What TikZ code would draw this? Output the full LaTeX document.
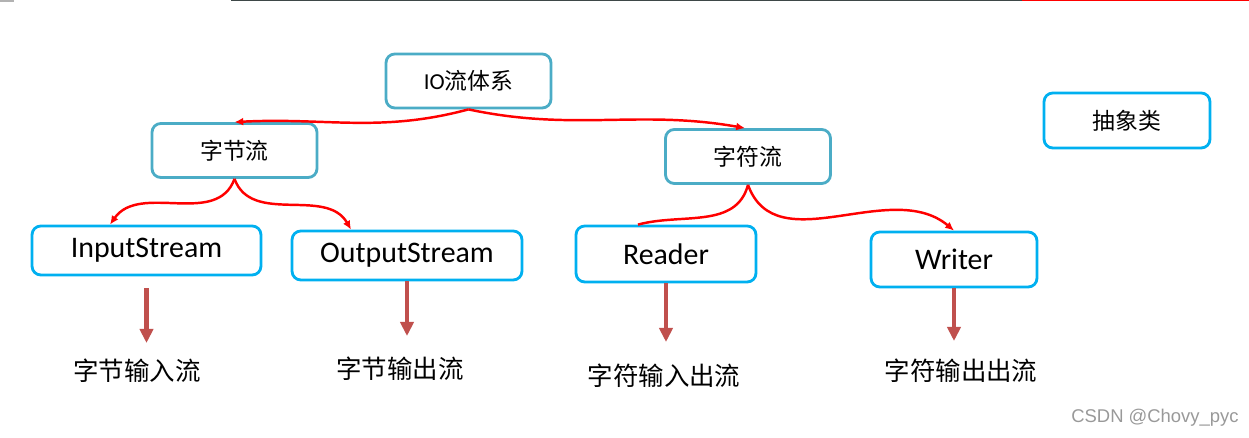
\documentclass[tikz,border=0pt]{standalone}
\usepackage{fontspec}
\setmainfont{Carlito}
\newfontfamily\cjk{Noto Sans CJK SC}
\newfontfamily\wmfont{Liberation Sans}
\usetikzlibrary{arrows.meta}

\definecolor{boxteal}{RGB}{75,172,198}
\definecolor{boxblue}{RGB}{0,176,240}
\definecolor{downred}{RGB}{192,80,77}
\definecolor{topgray}{RGB}{62,72,72}

\tikzset{
  topbox/.style={draw=boxteal, line width=1.6pt, rounded corners=5pt, inner sep=0pt,
    minimum width=3.3cm, minimum height=1.08cm, font=\fontsize{13}{15}\selectfont},
  classbox/.style={draw=boxblue, line width=1.6pt, rounded corners=5pt, inner sep=0pt,
    font=\fontsize{17}{20}\selectfont},
  lbl/.style={font=\cjk\fontsize{14.5}{17}\selectfont},
  split/.style={draw=red, line width=1.4pt, -{Latex[length=5pt,width=4.5pt]}},
  down/.style={draw=downred, line width=2.3pt, -{Triangle[length=8pt,width=7.5pt]}}
}

\begin{document}
\begin{tikzpicture}[x=0.02cm, y=-0.02cm]
    \useasboundingbox (0,0) rectangle (1249,438);

    \draw[line width=0.9pt, topgray] (231,0.6) -- (1022,0.6);
    \draw[line width=0.9pt, red] (1022,0.6) -- (1249,0.6);
    \draw[line width=0.9pt, gray!60] (0,1) -- (14,1);

    \node[topbox] (io) at (468.5,81) {IO{\cjk 流体系}};
    \node[topbox] (zjl) at (234.5,150.5) {\cjk 字节流};
    \node[topbox] (zfl) at (748,156.5) {\cjk 字符流};
    \node[topbox, draw=boxblue, minimum width=3.32cm, minimum height=1.1cm] (abs) at (1127,120.5) {\cjk 抽象类};

    \node[classbox, minimum width=4.58cm, minimum height=0.98cm] (istream) at (146.5,250.5) {InputStream};
    \node[classbox, minimum width=4.6cm, minimum height=0.98cm] (ostream) at (407,255.5) {OutputStream};
    \node[classbox, minimum width=3.6cm, minimum height=1.12cm] (reader) at (666,254) {Reader};
    \node[classbox, minimum width=3.32cm, minimum height=1.1cm] (writer) at (954,259.5) {Writer};

    \node[lbl] (ilbl) at (137,371) {字节输入流};
    \node[lbl] (olbl) at (400,369) {字节输出流};
    \node[lbl] (rlbl) at (664,376) {字符输入出流};
    \node[lbl] (wlbl) at (961,371) {字符输出出流};

    % red branches
    \draw[split] (io.south) to[out=195,in=3] (zjl.north);
    \draw[split] (io.south) to[out=-12,in=170] ([xshift=-0.06cm]zfl.north);
    \draw[split] (zjl.south) to[out=-110,in=55] ([xshift=-0.73cm]istream.north);
    \draw[split] (zjl.south) to[out=-70,in=120] ([xshift=-1.12cm]ostream.north);
    \draw[split, -] (zfl.south) to[out=-105,in=15] ([xshift=-0.56cm]reader.north);
    \draw[split] (zfl.south) to[out=-70,in=140] (writer.north);

    % down arrows
    \draw[down, shorten <=0.24cm, shorten >=0.2cm] (istream.south) -- (istream.south |- ilbl.north);
    \draw[down, shorten >=0.3cm] (ostream.south) -- (ostream.south |- olbl.north);
    \draw[down, shorten >=0.32cm] (reader.south) -- (reader.south |- rlbl.north);
    \draw[down, shorten >=0.24cm] (writer.south) -- (writer.south |- wlbl.north);

    \node[font=\wmfont\fontsize{10.5}{12}\selectfont, text=gray!80] (mark) at (1155,418) {CSDN @Chovy\_pyc};
\end{tikzpicture}
\end{document}
